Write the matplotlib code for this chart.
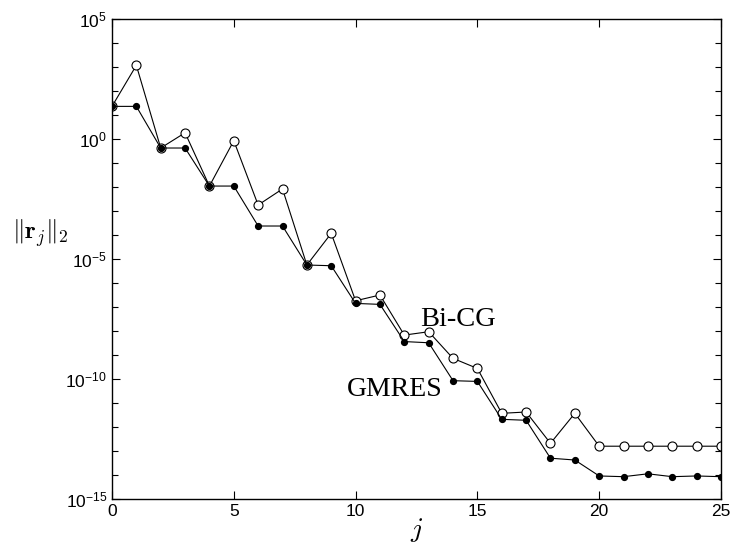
import numpy as np
import matplotlib.pyplot as plt
from matplotlib.ticker import FixedLocator, NullFormatter

# iteration index and log10 of residual norms
j = np.arange(26)
bicg_log = [1.36, 3.07, -0.375, 0.26, -1.96, -0.07, -2.75, -2.08, -5.25, -3.93,
            -6.74, -6.5, -8.17, -8.03, -9.14, -9.56, -11.43, -11.375, -12.68, -11.43,
            -12.8, -12.8, -12.8, -12.8, -12.8, -12.8]
gmres_log = [1.36, 1.36, -0.375, -0.375, -1.96, -1.96, -3.625, -3.625, -5.25, -5.28,
             -6.85, -6.89, -8.44, -8.49, -10.07, -10.1, -11.68, -11.72, -13.3, -13.375,
             -14.04, -14.07, -13.95, -14.07, -14.04, -14.07]

bicg = 10.0 ** np.array(bicg_log)
gmres = 10.0 ** np.array(gmres_log)

plt.rcParams['font.family'] = ['Liberation Sans', 'DejaVu Sans']
plt.rcParams['mathtext.fontset'] = 'cm'

fig = plt.figure(figsize=(7.31, 5.45), dpi=100)
ax = fig.add_axes([0.1532, 0.0844, 0.8331, 0.8807])

ax.plot(j, bicg, color='black', lw=0.8, marker='o', ms=6.5, mfc='white',
        mec='black', mew=0.8, zorder=2)
ax.plot(j, gmres, color='black', lw=0.8, marker='o', ms=4.2, mfc='black',
        mec='black', zorder=3)

ax.set_yscale('log')
ax.set_xlim(0, 25)
ax.set_ylim(1e-15, 1e5)
ax.yaxis.set_major_locator(FixedLocator([1e-15, 1e-10, 1e-5, 1e0, 1e5]))
ax.yaxis.set_minor_locator(FixedLocator([10.0 ** k for k in range(-15, 6)]))
ax.yaxis.set_minor_formatter(NullFormatter())
ax.set_xticks([0, 5, 10, 15, 20, 25])

ax.tick_params(which='both', direction='in', top=True, right=True,
               labelsize=12.5, width=0.8)
ax.tick_params(which='major', length=6)
ax.tick_params(which='minor', length=4)
for s in ax.spines.values():
    s.set_linewidth(1.0)

ax.text(12.64, 10 ** -7.79, 'Bi-CG', fontsize=20.5, family='Liberation Serif',
        ha='left', va='baseline')
ax.text(9.65, 10 ** -10.71, 'GMRES', fontsize=20, family='Liberation Serif',
        ha='left', va='baseline')

ax.set_xlabel(r'$j$', fontsize=20, labelpad=-2)
ax.set_ylabel(r'$\|\mathbf{r}_j\|_2$', fontsize=18, rotation=0)
ax.yaxis.set_label_coords(-0.118, 0.52)

fig.savefig('out.png', dpi=100)
plt.close(fig)
